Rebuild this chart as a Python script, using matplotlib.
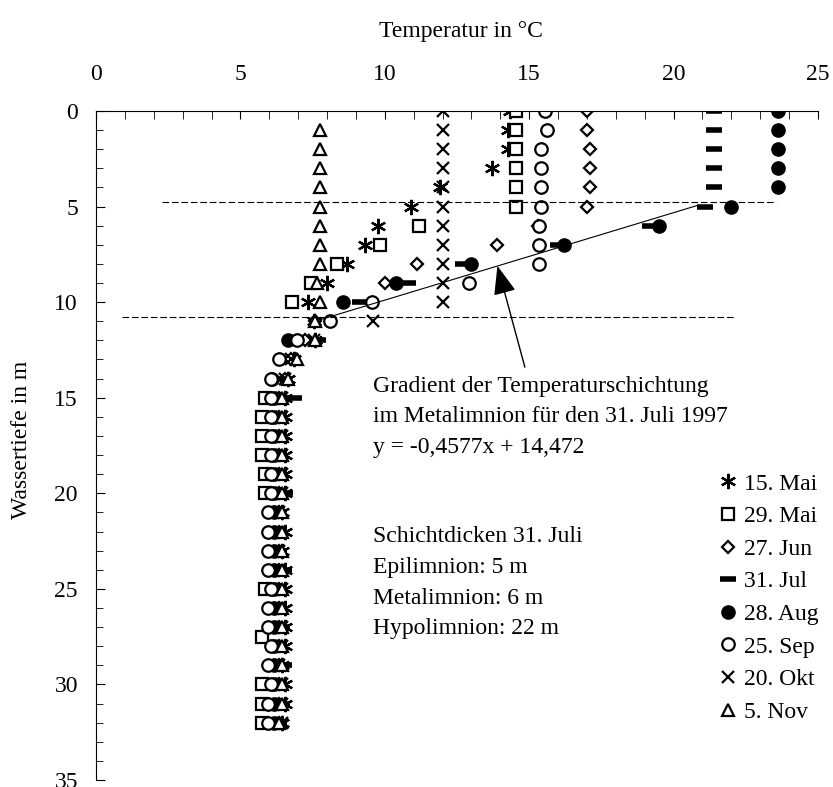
import numpy as np
import matplotlib
matplotlib.use("Agg")
import matplotlib.pyplot as plt

plt.rcParams["font.family"] = ["Liberation Serif", "DejaVu Serif"]
plt.rcParams["font.size"] = 17

# ========================
# Daten: Temperaturprofile (Tiefe in m, Temperatur in °C)
# ========================
mai15_tiefe = list(range(0, 33))
mai15_temp = [14.35, 14.25, 14.25, 13.7, 11.9, 10.9, 9.75, 9.3, 8.7, 8.0, 7.35, 7.55, 7.6,
              6.85, 6.65, 6.55, 6.55, 6.55, 6.55, 6.55, 6.55, 6.45, 6.55, 6.45, 6.55, 6.55,
              6.55, 6.55, 6.55, 6.45, 6.55, 6.55, 6.45]

mai29_tiefe = [0, 1, 2, 3, 4, 5, 6, 7, 8, 9, 10, 15, 16, 17, 18, 19, 20, 25, 27.5, 30, 31, 32]
mai29_temp = [14.55, 14.55, 14.55, 14.55, 14.55, 14.55, 11.2, 9.85, 8.35, 7.45, 6.8,
              5.85, 5.75, 5.75, 5.75, 5.85, 5.85, 5.85, 5.75, 5.75, 5.75, 5.75]

jun27_tiefe = [0, 1, 2, 3, 4, 5, 6, 7, 8, 9] + list(range(11, 33))
jun27_temp = [17.0, 17.0, 17.1, 17.1, 17.1, 17.0, 15.3, 13.9, 11.1, 10.0,
              7.6, 7.25, 6.75, 6.55, 6.35, 6.35, 6.35, 6.35, 6.35, 6.35, 6.35, 6.35,
              6.35, 6.35, 6.35, 6.35, 6.35, 6.35, 6.35, 6.35, 6.35, 6.35]

jul31_tiefe = list(range(0, 11)) + [12] + list(range(14, 33))
jul31_temp = [21.4, 21.4, 21.4, 21.4, 21.4, 21.1, 19.2, 16.0, 12.7, 10.8, 9.15, 7.7,
              6.25, 6.85, 6.25, 6.25, 6.25, 6.25, 6.55, 6.25, 6.25, 6.35, 6.5, 6.35,
              6.25, 6.45, 6.35, 6.5, 6.35, 6.45, 6.35]

aug28_tiefe = list(range(0, 11)) + [12] + list(range(14, 33))
aug28_temp = [23.6, 23.6, 23.6, 23.6, 23.6, 22.0, 19.5, 16.2, 13.0, 10.4, 8.55, 6.65,
              6.1, 6.15, 6.15, 6.15, 6.15, 6.15, 6.15, 6.15, 6.15, 6.15, 6.15, 6.15,
              6.15, 6.15, 6.15, 6.15, 6.15, 6.15, 6.15]

sep25_tiefe = list(range(0, 33))
sep25_temp = [15.55, 15.6, 15.4, 15.4, 15.4, 15.4, 15.35, 15.35, 15.35, 12.9, 9.55, 8.1,
              6.95, 6.35, 6.05, 6.05, 6.05, 6.05, 6.05, 6.05, 6.05, 5.95, 5.95, 5.95,
              5.95, 6.05, 5.95, 5.95, 6.05, 5.95, 6.05, 5.95, 5.95]

okt20_tiefe = list(range(0, 33))
okt20_temp = [12.0, 12.0, 12.0, 12.0, 12.0, 12.0, 12.0, 12.0, 12.0, 12.0, 12.0, 9.6, 7.55,
              6.75, 6.55, 6.45, 6.45, 6.45, 6.45, 6.45, 6.45, 6.35, 6.35, 6.35, 6.35,
              6.45, 6.35, 6.45, 6.45, 6.35, 6.45, 6.45, 6.45]

nov5_tiefe = list(range(1, 33))
nov5_temp = [7.75, 7.75, 7.75, 7.75, 7.75, 7.75, 7.75, 7.75, 7.65, 7.75, 7.6, 7.6,
             6.95, 6.65, 6.45, 6.45, 6.45, 6.45, 6.45, 6.45, 6.45, 6.45, 6.45, 6.45,
             6.45, 6.45, 6.45, 6.45, 6.45, 6.45, 6.45, 6.35]

# Regressionsgerade Metalimnion 31. Juli: y = -0,4577x + 14,472
steigung = -0.4577
achsenabschnitt = 14.472
gerade_temp = [7.8, 20.8]

# Schichtgrenzen (Tiefe in m)
grenze_epi = 4.75
grenze_hypo = 10.8

fig = plt.figure(figsize=(8.33, 7.87), dpi=100)
ax = fig.add_axes([96 / 833, 7 / 787, 722 / 833, 669 / 787])

kw = dict(linestyle="none", color="black")
ax.plot(mai15_temp, mai15_tiefe, marker=(6, 2, 0), ms=11, mew=1.6, label="15. Mai", **kw)
ax.plot(mai29_temp, mai29_tiefe, marker="s", ms=9, mew=1.6, mfc="white", label="29. Mai", **kw)
ax.plot(jun27_temp, jun27_tiefe, marker="D", ms=6.5, mew=1.6, mfc="white", label="27. Jun", **kw)
ax.plot(jul31_temp, jul31_tiefe, marker="_", ms=11, mew=4, label="31. Jul", **kw)
ax.plot(aug28_temp, aug28_tiefe, marker="o", ms=9.5, label="28. Aug", **kw)
ax.plot(sep25_temp, sep25_tiefe, marker="o", ms=9, mew=1.6, mfc="white", label="25. Sep", **kw)
ax.plot(okt20_temp, okt20_tiefe, marker="x", ms=9, mew=1.6, label="20. Okt", **kw)
ax.plot(nov5_temp, nov5_tiefe, marker="^", ms=9, mew=1.6, mfc="white", label="5. Nov", **kw)

# Gradient
gt = np.array(gerade_temp)
ax.plot(gt, steigung * gt + achsenabschnitt, color="black", lw=0.8)

# Schichtgrenzen
ax.plot([2.3, 23.55], [grenze_epi, grenze_epi], color="black", lw=0.8, dashes=(6, 2.5))
ax.plot([0.9, 22.1], [grenze_hypo, grenze_hypo], color="black", lw=0.8, dashes=(6, 2.5))

ax.annotate("", xy=(13.9, 8.1), xytext=(14.85, 13.4),
            arrowprops=dict(arrowstyle="-|>,head_length=0.9,head_width=0.35",
                            color="black", lw=1, mutation_scale=20, shrinkA=0, shrinkB=0))

ax.text(9.6, 14.4, "Gradient der Temperaturschichtung", va="center")
ax.text(9.6, 16.0, "im Metalimnion für den 31. Juli 1997", va="center")
ax.text(9.6, 17.6, "y = -0,4577x + 14,472", va="center")

ax.text(9.6, 22.25, "Schichtdicken 31. Juli", va="center")
ax.text(9.6, 23.9, "Epilimnion: 5 m", va="center")
ax.text(9.6, 25.5, "Metalimnion: 6 m", va="center")
ax.text(9.6, 27.1, "Hypolimnion: 22 m", va="center")

ax.set_xlim(0, 25)
ax.set_ylim(35, 0)
ax.set_xticks(range(0, 26, 5))
ax.set_xticks(range(0, 26), minor=True)
ax.set_yticks(range(0, 36, 5))
ax.set_yticks(range(0, 36), minor=True)
ax.xaxis.tick_top()
ax.xaxis.set_label_position("top")
ax.tick_params(axis="x", which="both", direction="in", pad=19, length=6)
ax.tick_params(axis="y", which="major", direction="in", pad=13, length=6.5)
ax.tick_params(axis="y", which="minor", direction="in", length=5)
ax.spines["right"].set_visible(False)
ax.spines["bottom"].set_visible(False)

ax.set_xlabel("Temperatur in °C")
ax.xaxis.set_label_coords(0.505, 1.11)
ax.set_ylabel("Wassertiefe in m")
ax.yaxis.set_label_coords(-0.088, 0.508)

ax.legend(loc="upper left", bbox_to_anchor=(719 / 833, 1 - 473 / 787),
          bbox_transform=fig.transFigure, frameon=False, borderpad=0, borderaxespad=0,
          handlelength=0.8, handletextpad=0.25, labelspacing=0.47, numpoints=1)

fig.savefig("out.png", dpi=100)
